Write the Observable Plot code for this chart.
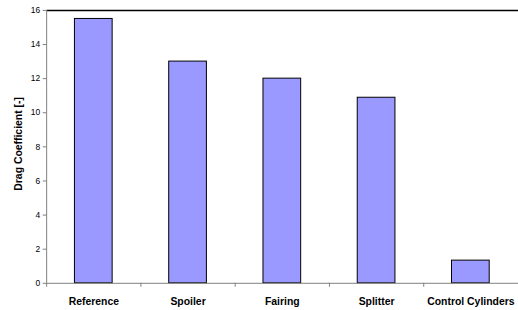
<!DOCTYPE html>
<html><head><meta charset="utf-8">
<script src="https://cdn.jsdelivr.net/npm/d3@7"></script>
<script src="https://cdn.jsdelivr.net/npm/@observablehq/plot@0.6"></script>
<style>
html,body{margin:0;padding:0;background:#fff;overflow:hidden;}
</style></head>
<body><div id="chart"></div>
<script>
const categories = ["Reference", "Spoiler", "Fairing", "Splitter", "Control Cylinders"];
const values = [15.5, 13.0, 12.0, 10.88, 1.33];
const yTicks = [0, 2, 4, 6, 8, 10, 12, 14, 16];
const yLabel = "Drag Coefficient [-]";

const data = categories.map((c, i) => ({category: c, value: values[i]}));

const chart = Plot.plot({
  width: 522,
  height: 310,
  marginLeft: 47,
  marginRight: 0,
  marginTop: 10,
  marginBottom: 25,
  style: {fontFamily: "Arial, 'Liberation Sans', sans-serif", background: "#fff", overflow: "visible"},
  x: {domain: categories, paddingInner: 0.6, paddingOuter: 0.3, label: null},
  y: {domain: [0, 16], label: null},
  marks: [
    Plot.barY(data, {x: "category", y: "value", fill: "#9999ff", stroke: "#000", strokeWidth: 1}),
    Plot.ruleY([16], {stroke: "#000", strokeWidth: 1.5}),
    Plot.ruleY([0], {stroke: "#808080"}),
    Plot.ruleX([categories[0]], {dx: -47.5, y1: 0, y2: 16, stroke: "#808080"}),
    Plot.ruleX(categories, {x: d => d, dx: -47.5, y1: d => 0, y2: d => 0, insetBottom: -4, stroke: "#808080"}),
    Plot.axisY({ticks: yTicks, tickSize: 4, tickPadding: 3, stroke: "#808080", fill: "#000", fontSize: 8.5, label: null}),
    Plot.text([yLabel], {frameAnchor: "left", textAnchor: "middle", dx: -29, dy: -3, rotate: -90, text: d => d, fontSize: 10.5, fontWeight: "bold", fill: "#000"}),
    Plot.axisX({tickSize: 0, tickPadding: 14, fontSize: 10.5, fontWeight: "bold", fill: "#000", label: null})
  ]
});
document.getElementById("chart").append(chart);
</script>
</body></html>
